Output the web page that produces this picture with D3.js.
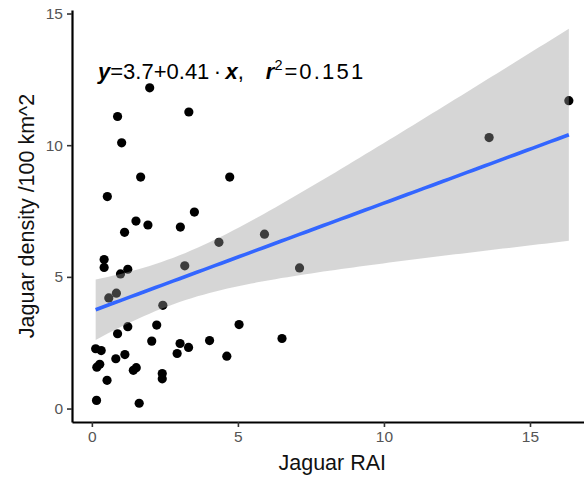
<!DOCTYPE html>
<html>
<head>
<meta charset="utf-8">
<script src="https://cdn.jsdelivr.net/npm/d3@7"></script>
<style>
  body { margin: 0; background: #fff; }
  svg { display: block; }
  text { font-family: "Liberation Sans", Arial, sans-serif; }
</style>
</head>
<body>
<svg id="chart" width="584" height="482"></svg>
<script>
// Jaguar relative abundance index (RAI) per site
const raiValues = [
  1.98, 0.88, 3.32, 1.02, 1.67, 4.72, 0.53, 3.51, 1.51, 1.92,
  3.03, 1.12, 4.35, 5.91, 0.42, 0.42, 1.23, 0.98, 3.18, 7.11,
  0.84, 0.58, 2.43, 1.23, 2.22, 0.88, 5.04, 0.13, 0.32, 2.05,
  3.02, 3.31, 4.03, 2.92, 4.62, 1.13, 0.82, 0.27, 0.17, 1.52,
  1.42, 2.41, 2.41, 0.52, 0.16, 1.62, 6.51, 13.60, 16.33
];
// Jaguar density (individuals / 100 km^2) per site
const densityValues = [
  12.18, 11.09, 11.26, 10.09, 8.79, 8.79, 8.05, 7.46, 7.12, 6.97,
  6.89, 6.69, 6.31, 6.62, 5.66, 5.36, 5.29, 5.11, 5.42, 5.34,
  4.38, 4.20, 3.92, 3.11, 3.17, 2.84, 3.19, 2.27, 2.20, 2.56,
  2.47, 2.32, 2.58, 2.09, 1.99, 2.05, 1.89, 1.68, 1.57, 1.55,
  1.45, 1.33, 1.13, 1.07, 0.31, 0.20, 2.66, 10.29, 11.69
];

const xTicks = [0, 5, 10, 15];
const yTicks = [0, 5, 10, 15];
const xLabel = "Jaguar RAI";
const yLabel = "Jaguar density /100 km^2";

// Linear fit reported on the plot
const fitIntercept = 3.7;
const fitSlope = 0.41;
const fitR2 = 0.151;
const tCrit = 2.012; // t(0.975, df = 47)

const points = raiValues.map((v, i) => ({ x: v, y: densityValues[i] }));
const n = points.length;

// 95% confidence band of the fitted mean
const xMean = d3.mean(raiValues);
const sxx = d3.sum(raiValues, v => (v - xMean) ** 2);
const sse = d3.sum(points, p => (p.y - (fitIntercept + fitSlope * p.x)) ** 2);
const sRes = Math.sqrt(sse / (n - 2));
const [xMin, xMax] = d3.extent(raiValues);
const band = d3.range(80).map(i => {
  const xv = xMin + (xMax - xMin) * i / 79;
  const fit = fitIntercept + fitSlope * xv;
  const se = sRes * Math.sqrt(1 / n + (xv - xMean) ** 2 / sxx);
  return { x: xv, fit, lo: fit - tCrit * se, hi: fit + tCrit * se };
});

// Domains with 5% padding on each side
function padded(lo, hi) {
  const d = (hi - lo) * 0.05;
  return [lo - d, hi + d];
}
const yLo = Math.min(d3.min(densityValues), d3.min(band, b => b.lo));
const yHi = Math.max(d3.max(densityValues), d3.max(band, b => b.hi));

const panel = { left: 72, right: 592.5, top: 10, bottom: 422 };
const x = d3.scaleLinear().domain(padded(xMin, xMax)).range([panel.left, panel.right]);
const y = d3.scaleLinear().domain(padded(yLo, yHi)).range([panel.bottom, panel.top]);

const svg = d3.select("#chart");

// Points
svg.append("g")
  .selectAll("circle")
  .data(points)
  .join("circle")
  .attr("cx", d => x(d.x))
  .attr("cy", d => y(d.y))
  .attr("r", 4.6)
  .attr("fill", "#000");

// Confidence band
svg.append("path")
  .datum(band)
  .attr("d", d3.area().x(d => x(d.x)).y0(d => y(d.lo)).y1(d => y(d.hi)))
  .attr("fill", "#999999")
  .attr("fill-opacity", 0.4);

// Fitted line
svg.append("path")
  .datum(band)
  .attr("d", d3.line().x(d => x(d.x)).y(d => y(d.fit)))
  .attr("fill", "none")
  .attr("stroke", "#3366FF")
  .attr("stroke-width", 3.6);

// Axes
function styleAxis(g) {
  g.select(".domain").attr("stroke", "#000").attr("stroke-width", 2.2);
  g.selectAll(".tick line").attr("stroke", "#333").attr("stroke-width", 1.6);
  g.selectAll(".tick text")
    .attr("fill", "#555")
    .style("font-size", "15.5px")
    .style("font-family", "'Liberation Sans', Arial, sans-serif");
}

svg.append("g")
  .attr("transform", `translate(0,${panel.bottom})`)
  .call(d3.axisBottom(x).tickValues(xTicks).tickSize(5).tickSizeOuter(0).tickPadding(4))
  .call(styleAxis);

svg.append("g")
  .attr("transform", `translate(${panel.left},0)`)
  .call(d3.axisLeft(y).tickValues(yTicks).tickSize(5).tickSizeOuter(0).tickPadding(4))
  .call(styleAxis);

// Axis titles
svg.append("text")
  .attr("x", (panel.left + panel.right) / 2)
  .attr("y", 469.5)
  .attr("text-anchor", "middle")
  .attr("fill", "#111")
  .style("font-size", "21.5px")
  .text(xLabel);

svg.append("text")
  .attr("transform", `translate(34,${(panel.top + panel.bottom) / 2}) rotate(-90)`)
  .attr("text-anchor", "middle")
  .attr("fill", "#111")
  .style("font-size", "21.5px")
  .text(yLabel);

// Regression equation
const eq = svg.append("text")
  .attr("x", 98)
  .attr("y", 78.5)
  .attr("fill", "#000")
  .style("font-size", "22px");
const em = (t) => eq.append("tspan").style("font-weight", "bold").style("font-style", "italic").text(t);
const rm = (t) => eq.append("tspan").text(t);
em("y");
rm("=" + fitIntercept + "+" + fitSlope + "\u2009\u00B7\u2009");
em("x");
rm(",");
em("r").attr("dx", 22);
eq.append("tspan").attr("dy", -9).style("font-size", "14.5px").text("2");
eq.append("tspan").attr("dy", 9).attr("dx", 2).text("=");
eq.append("tspan").attr("dx", 2).style("letter-spacing", "2.2px").text(fitR2);
</script>
</body>
</html>
